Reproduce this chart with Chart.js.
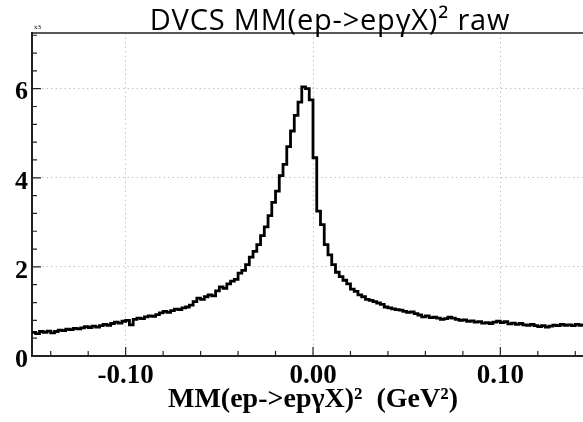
<!DOCTYPE html>
<html>
<head>
<meta charset="utf-8">
<script src="https://cdn.jsdelivr.net/npm/chart.js@4.4.1/dist/chart.umd.min.js"></script>
<style>
  html, body { margin: 0; padding: 0; background: #fff; overflow: hidden; }
  #wrap { width: 583px; height: 422px; overflow: hidden; }
</style>
</head>
<body>
<div id="wrap"><canvas id="mmChart" width="596" height="422"></canvas></div>
<script>
// histogram of MM(ep->epgX)^2, counts in units of 10^3, bins of 0.002 GeV^2
const binStart = -0.15;
const binWidth = 0.002;

// -0.150 .. -0.052
const countsLeftTail = [
  0.53, 0.50, 0.55, 0.53, 0.56, 0.52, 0.55, 0.58, 0.57, 0.60,
  0.59, 0.62, 0.61, 0.63, 0.66, 0.64, 0.67, 0.65, 0.68, 0.71,
  0.69, 0.73, 0.76, 0.74, 0.78, 0.80, 0.70, 0.82, 0.85, 0.84,
  0.88, 0.90, 0.89, 0.93, 0.97, 1.00, 0.98, 1.02, 1.05, 1.04,
  1.08, 1.10, 1.14, 1.22, 1.30, 1.27, 1.33, 1.37, 1.35, 1.46
];
// -0.050 .. 0.008
const countsPeak = [
  1.55, 1.52, 1.62, 1.68, 1.72, 1.86, 1.92, 2.05, 2.22, 2.35,
  2.50, 2.70, 2.90, 3.15, 3.45, 3.70, 4.05, 4.30, 4.70, 5.05,
  5.40, 5.70, 6.04, 6.00, 5.75, 4.45, 3.25, 2.95, 2.50, 2.27
];
// 0.010 .. 0.148
const countsRightTail = [
  2.05, 1.88, 1.78, 1.70, 1.62, 1.50, 1.45, 1.37, 1.33, 1.27,
  1.25, 1.22, 1.19, 1.16, 1.10, 1.08, 1.06, 1.04, 1.03, 1.00,
  0.98, 0.99, 0.95, 0.92, 0.88, 0.90, 0.86, 0.87, 0.85, 0.82,
  0.84, 0.87, 0.85, 0.82, 0.80, 0.81, 0.78, 0.79, 0.76, 0.77,
  0.74, 0.75, 0.73, 0.76, 0.78, 0.75, 0.77, 0.72, 0.74, 0.71,
  0.73, 0.70, 0.69, 0.71, 0.68, 0.66, 0.68, 0.65, 0.67, 0.69,
  0.68, 0.71, 0.69, 0.70, 0.68, 0.71, 0.69, 0.70, 0.72, 0.70
];

const xTickLabels = [-0.10, 0.00, 0.10];
const yTickLabels = [0, 2, 4, 6];
const titleText = 'DVCS MM(ep->epγX)² raw';
const xTitleText = 'MM(ep->epγX)²  (GeV²)';
const yExponent = 'x3';

const counts = [...countsLeftTail, ...countsPeak, ...countsRightTail];
const points = counts.map((c, i) => ({ x: binStart + i * binWidth, y: c }));
// close the last bin at its upper edge
points.push({ x: binStart + counts.length * binWidth, y: counts[counts.length - 1] });

const serifFam = '"Liberation Serif", "Times New Roman", serif';

// ROOT-like frame: top line, inward ticks, title, exponent
const rootFrame = {
  id: 'rootFrame',
  afterDraw(chart) {
    const { ctx, chartArea: a, scales: { x, y } } = chart;
    ctx.save();
    ctx.strokeStyle = '#222';
    ctx.lineWidth = 1.5;
    ctx.beginPath();
    ctx.moveTo(a.left, a.top);
    ctx.lineTo(a.right, a.top);
    ctx.stroke();

    ctx.lineWidth = 1.2;
    ctx.beginPath();
    for (let k = -7; k <= 7; k++) {
      const px = x.getPixelForValue(k * 0.02);
      const len = k % 5 === 0 ? 9 : 5;
      ctx.moveTo(px, a.bottom);
      ctx.lineTo(px, a.bottom - len);
    }
    for (let k = 1; k * 0.4 < y.max; k++) {
      const py = y.getPixelForValue(k * 0.4);
      const len = k % 5 === 0 ? 9 : 5;
      ctx.moveTo(a.left, py);
      ctx.lineTo(a.left + len, py);
    }
    ctx.stroke();

    ctx.fillStyle = '#000';
    ctx.textAlign = 'center';
    ctx.textBaseline = 'alphabetic';
    ctx.font = '29px "Open Sans", sans-serif';
    ctx.letterSpacing = '0.8px';
    ctx.fillText(titleText, 330, 30);
    ctx.letterSpacing = '0px';

    ctx.textAlign = 'left';
    ctx.font = '7px ' + serifFam;
    ctx.fillText(yExponent, 34, 29);
    ctx.restore();
  }
};

new Chart(document.getElementById('mmChart'), {
  type: 'line',
  data: {
    datasets: [{
      data: points,
      stepped: 'before',
      borderColor: '#000',
      borderWidth: 2.8,
      pointRadius: 0,
      fill: false
    }]
  },
  options: {
    responsive: false,
    animation: false,
    layout: { padding: { top: 33, right: 2, left: 0, bottom: 0 } },
    plugins: {
      legend: { display: false },
      tooltip: { enabled: false },
      title: { display: false }
    },
    scales: {
      x: {
        type: 'linear',
        min: -0.15,
        max: 0.15,
        afterBuildTicks: s => { s.ticks = xTickLabels.map(v => ({ value: v })); },
        afterFit: s => { s.height = 66; },
        ticks: {
          autoSkip: false,
          maxRotation: 0,
          padding: 4,
          color: '#000',
          font: { family: serifFam, size: 27, weight: 'bold' },
          callback: v => v.toFixed(2)
        },
        grid: { color: '#c4c4c4', drawTicks: false, lineWidth: 1 },
        border: { color: '#222', width: 2, dash: [1.5, 3] },
        title: {
          display: true,
          text: xTitleText,
          color: '#000',
          font: { family: serifFam, size: 28, weight: 'bold' },
          padding: { top: 0, bottom: 5 }
        }
      },
      y: {
        min: 0,
        max: 7.25,
        afterBuildTicks: s => { s.ticks = yTickLabels.map(v => ({ value: v })); },
        afterFit: s => { s.width = 32; },
        ticks: {
          padding: 4,
          labelOffset: 4,
          color: '#000',
          font: { family: serifFam, size: 26, weight: 'bold' },
          callback: v => String(v)
        },
        grid: { color: '#c4c4c4', drawTicks: false, lineWidth: 1 },
        border: { color: '#222', width: 2, dash: [1.5, 3] }
      }
    }
  },
  plugins: [rootFrame]
});
</script>
</body>
</html>
